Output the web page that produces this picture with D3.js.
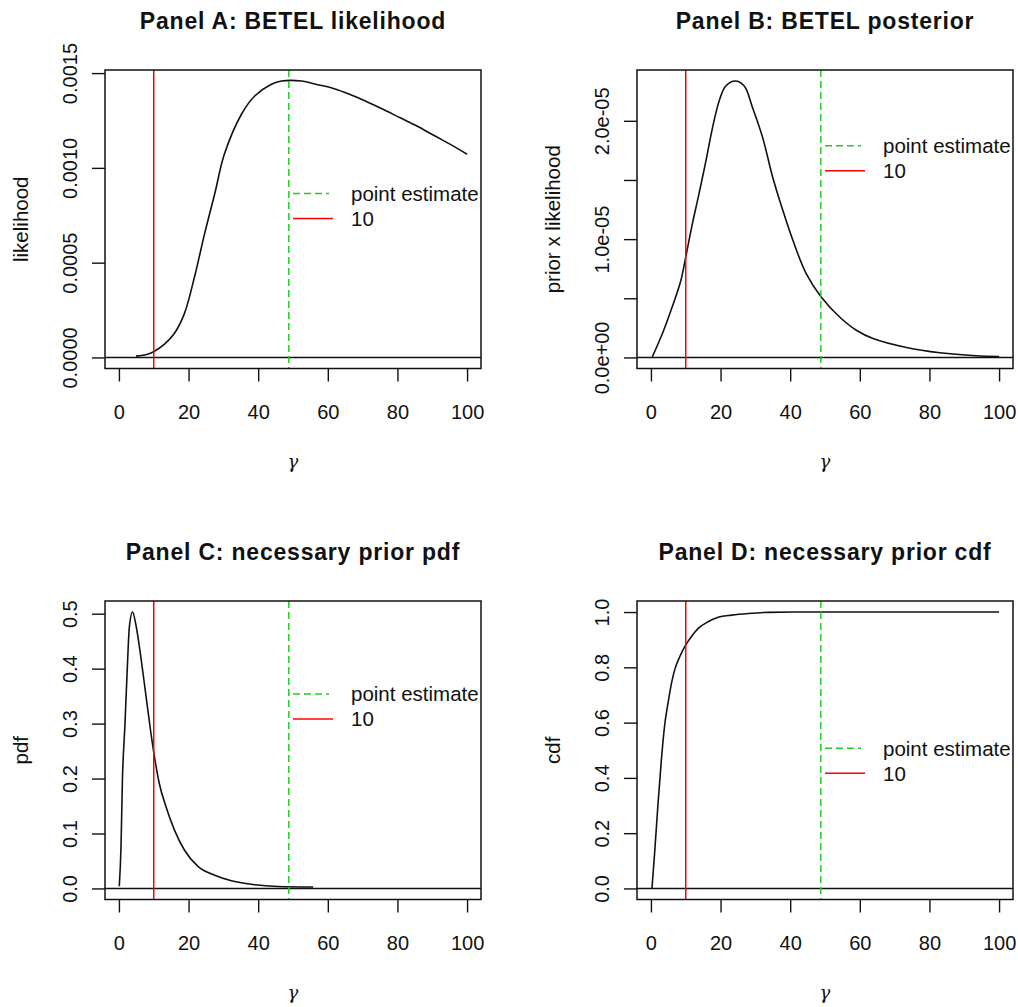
<!DOCTYPE html>
<html>

<head>
    <meta charset='utf-8'>
    <title>BETEL panels</title>
    <script type='text/javascript' src='https://cdn.jsdelivr.net/npm/d3@7'></script>
    <style>
        body { margin: 0; background: #fff; }
        text { font-family: 'Liberation Sans', Arial, sans-serif; fill: #111; }
    </style>
</head>

<body>
    <svg width='1018' height='1007'></svg>
    <script type='text/javascript'>
        // values
        const gammaA = [4.9, 8.2, 10.2, 13.1, 15.9, 18.8, 21.7, 24.6, 27.5, 30.3, 35.2, 39, 43.8, 46.7, 52.5, 56.8, 61.6, 66.4, 71.2, 76, 80.8, 85.6, 90.4, 95.2, 100]
        const likelihoodA = [0.0000068, 0.0000174, 0.000033, 0.00007, 0.000126, 0.000231, 0.000424, 0.000652, 0.000862, 0.001073, 0.001283, 0.001379, 0.001441, 0.001458, 0.001458, 0.00144, 0.001419, 0.001387, 0.001349, 0.001308, 0.001264, 0.001221, 0.001172, 0.001124, 0.001072]

        const gammaB = [0.4, 3.3, 6.1, 8.6, 10, 11.9, 13.8, 15.8, 17.7, 19.6, 21.5, 24.2, 26.8, 29.2, 32.1, 35, 37.9, 40.8, 44.6, 48.9, 54.2, 59, 63.8, 73.4, 83, 93.4, 100]
        const posteriorB = [0.005e-5, 0.202e-5, 0.426e-5, 0.651e-5, 0.848e-5, 1.129e-5, 1.382e-5, 1.662e-5, 1.943e-5, 2.168e-5, 2.294e-5, 2.336e-5, 2.294e-5, 2.111e-5, 1.858e-5, 1.521e-5, 1.241e-5, 0.988e-5, 0.708e-5, 0.511e-5, 0.342e-5, 0.23e-5, 0.16e-5, 0.084e-5, 0.039e-5, 0.014e-5, 0.008e-5]

        const gammaC = [0.1, 0.6, 1.0, 1.7, 2.3, 3.0, 3.9, 4.9, 6.3, 7.8, 9.2, 10.2, 11.6, 13.5, 15.9, 18.8, 22.7, 27.5, 32.3, 39, 45.7, 55.8]
        const pdfC = [0.004, 0.076, 0.197, 0.294, 0.385, 0.476, 0.503, 0.479, 0.421, 0.349, 0.282, 0.24, 0.191, 0.149, 0.107, 0.07, 0.04, 0.024, 0.014, 0.0067, 0.0036, 0.0025]

        const gammaD = [0.3, 1.06, 2, 3, 3.9, 4.9, 5.9, 6.8, 8.3, 10, 11.6, 13.6, 16.4, 19.3, 23.2, 28, 33.8, 40.5, 100]
        const cdfD = [0, 0.128, 0.3, 0.465, 0.586, 0.67, 0.742, 0.79, 0.839, 0.881, 0.911, 0.941, 0.965, 0.981, 0.989, 0.995, 0.999, 1, 1]

        const titles = ['Panel A: BETEL likelihood', 'Panel B: BETEL posterior', 'Panel C: necessary prior pdf', 'Panel D: necessary prior cdf']
        const yLabels = ['likelihood', 'prior x likelihood', 'pdf', 'cdf']
        const xTicks = [0, 20, 40, 60, 80, 100]
        const yTicksA = [0, 0.0005, 0.001, 0.0015]
        const yTickLabelsA = ['0.0000', '0.0005', '0.0010', '0.0015']
        const yTicksB = [0, 0.5e-5, 1e-5, 1.5e-5, 2e-5]
        const yTickLabelsB = ['0.0e+00', '', '1.0e-05', '', '2.0e-05']
        const yTicksC = [0, 0.1, 0.2, 0.3, 0.4, 0.5]
        const yTickLabelsC = ['0.0', '0.1', '0.2', '0.3', '0.4', '0.5']
        const yTicksD = [0, 0.2, 0.4, 0.6, 0.8, 1.0]
        const yTickLabelsD = ['0.0', '0.2', '0.4', '0.6', '0.8', '1.0']

        const pointEstimate = 48.8
        const refValue = 10
        const legendLabels = ['point estimate', '10']
        // legend anchor (data units) for each panel
        const legendX = 50
        const legendY = [0.000865, 1.79e-5, 0.354, 0.507]

        const panels = [
            { x: gammaA, y: likelihoodA, ticks: yTicksA, labels: yTickLabelsA, left: 105, top: 70, curve: d3.curveCatmullRom.alpha(0.5) },
            { x: gammaB, y: posteriorB, ticks: yTicksB, labels: yTickLabelsB, left: 637, top: 70, curve: d3.curveCatmullRom.alpha(0.5) },
            { x: gammaC, y: pdfC, ticks: yTicksC, labels: yTickLabelsC, left: 105, top: 601, curve: d3.curveMonotoneX },
            { x: gammaD, y: cdfD, ticks: yTicksD, labels: yTickLabelsD, left: 637, top: 601, curve: d3.curveMonotoneX }
        ]
        const W = 376, H = 298.5
        const green = '#1fcf1f', red = '#ff0000'

        const svg = d3.select('svg')
        svg.append('rect').attr('width', 1018).attr('height', 1007).attr('fill', '#fff')

        panels.forEach((p, i) => {
            const g = svg.append('g').attr('transform', `translate(${p.left},${p.top})`)
            const x = d3.scaleLinear().domain([-4, 104]).range([0, W])
            // R style: data range padded by 4% each side
            const lo = Math.min(0, d3.min(p.y)), hi = d3.max(p.y)
            const pad = (hi - lo) * 0.04
            const y = d3.scaleLinear().domain([lo - pad, hi + pad]).range([H, 0])

            g.append('clipPath').attr('id', 'clip' + i)
                .append('rect').attr('width', W).attr('height', H)
            const plot = g.append('g').attr('clip-path', `url(#clip${i})`)

            // h = 0
            plot.append('line').attr('x1', 0).attr('x2', W)
                .attr('y1', y(0)).attr('y2', y(0))
                .attr('stroke', '#111').attr('stroke-width', 1.5)

            const line = d3.line().x((d, k) => x(p.x[k])).y(d => y(d)).curve(p.curve)
            plot.append('path').attr('d', line(p.y))
                .attr('fill', 'none').attr('stroke', '#111').attr('stroke-width', 1.6)

            plot.append('line').attr('x1', x(refValue)).attr('x2', x(refValue))
                .attr('y1', 0).attr('y2', H).attr('stroke', red).attr('stroke-width', 1.5)
            plot.append('line').attr('x1', x(pointEstimate)).attr('x2', x(pointEstimate))
                .attr('y1', 0).attr('y2', H).attr('stroke', green).attr('stroke-width', 1.5)
                .attr('stroke-dasharray', '7,4')

            // axes
            const xAxis = g.append('g').attr('transform', `translate(0,${H})`)
                .call(d3.axisBottom(x).tickValues(xTicks).tickSize(13).tickFormat(d3.format('d')))
            xAxis.select('.domain').remove()
            xAxis.selectAll('line').attr('stroke', '#111').attr('stroke-width', 1.4)
            xAxis.selectAll('text').attr('y', 43).attr('dy', '0.35em')
                .style('font-size', '20px').attr('fill', '#111')

            const yAxis = g.append('g')
                .call(d3.axisLeft(y).tickValues(p.ticks).tickSize(13).tickFormat((d, k) => p.labels[k]))
            yAxis.select('.domain').remove()
            yAxis.selectAll('line').attr('stroke', '#111').attr('stroke-width', 1.4)
            yAxis.selectAll('text').attr('x', 0).attr('dy', 0)
                .attr('transform', 'translate(-35,0) rotate(-90)')
                .attr('text-anchor', 'middle').attr('dominant-baseline', 'central')
                .style('font-size', '20px').attr('fill', '#111')

            // box
            g.append('rect').attr('width', W).attr('height', H)
                .attr('fill', 'none').attr('stroke', '#111').attr('stroke-width', 1.5)

            // legend
            const lx = x(legendX), ly = y(legendY[i])
            g.append('line').attr('x1', lx).attr('x2', lx + 36).attr('y1', ly).attr('y2', ly)
                .attr('stroke', green).attr('stroke-width', 1.5).attr('stroke-dasharray', '7,4')
            g.append('line').attr('x1', lx).attr('x2', lx + 40).attr('y1', ly + 25).attr('y2', ly + 25)
                .attr('stroke', red).attr('stroke-width', 1.5)
            legendLabels.forEach((t, k) => {
                g.append('text').attr('x', lx + 58).attr('y', ly + k * 25)
                    .attr('dominant-baseline', 'central').style('font-size', '20.5px').text(t)
            })

            // titles and labels
            g.append('text').attr('x', W / 2).attr('y', -49)
                .attr('text-anchor', 'middle').attr('dominant-baseline', 'central')
                .style('font-size', '23px').style('font-weight', 'bold').style('letter-spacing', '0.8px')
                .text(titles[i])
            g.append('text').attr('transform', `translate(-85,${H / 2}) rotate(-90)`)
                .attr('text-anchor', 'middle').attr('dominant-baseline', 'central')
                .style('font-size', '20.5px').text(yLabels[i])
            g.append('text').attr('x', W / 2).attr('y', H + 93)
                .attr('text-anchor', 'middle').attr('dominant-baseline', 'central')
                .style('font-family', "'DejaVu Serif', serif").style('font-style', 'italic').style('font-size', '18px')
                .attr('fill', '#555').text('γ')
        })
    </script>
</body>

</html>
